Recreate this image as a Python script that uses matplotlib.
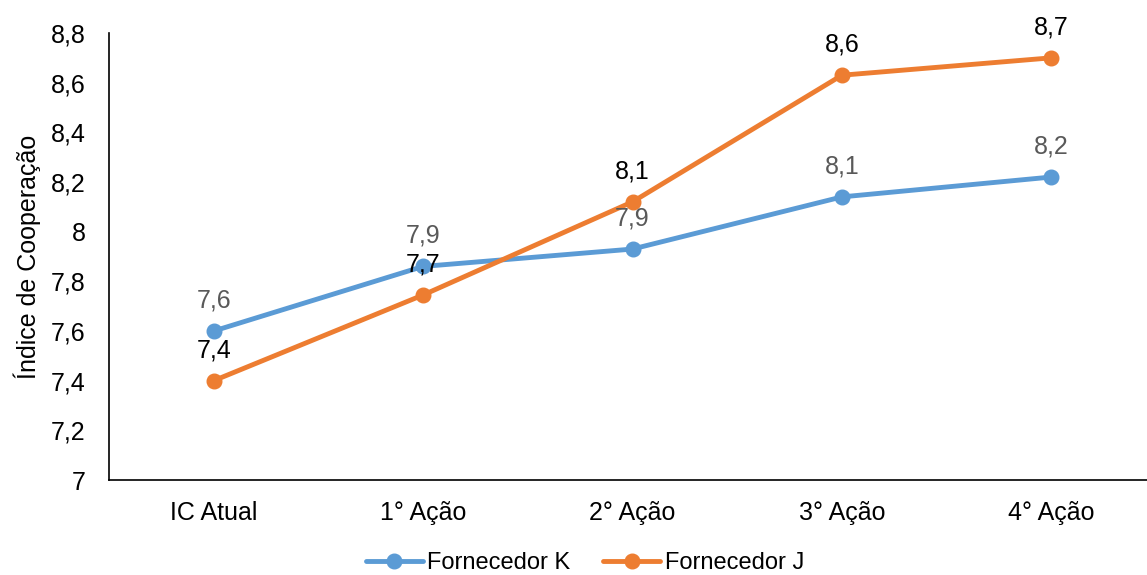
import matplotlib
matplotlib.use("Agg")
import matplotlib.pyplot as plt
from matplotlib.ticker import FixedLocator, FuncFormatter

categories = ["IC Atual", "1° Ação", "2° Ação", "3° Ação", "4° Ação"]
fornecedor_k = [7.60, 7.86, 7.93, 8.14, 8.22]
fornecedor_j = [7.40, 7.745, 8.12, 8.63, 8.70]
yticks = [7, 7.2, 7.4, 7.6, 7.8, 8, 8.2, 8.4, 8.6, 8.8]

plt.rcParams['font.family'] = ['Liberation Sans', 'DejaVu Sans']

fig = plt.figure(figsize=(11.47, 5.75), dpi=100)
ax = fig.add_axes([109/1147, 1 - 480/575, 1047/1147, 447/575])

blue = "#5B9BD5"
orange = "#ED7D31"
x = list(range(len(categories)))
ax.plot(x, fornecedor_k, color=blue, lw=3.5, marker='o', ms=10.5, label="Fornecedor K",
        solid_capstyle='round', zorder=3)
ax.plot(x, fornecedor_j, color=orange, lw=3.5, marker='o', ms=10.5, label="Fornecedor J",
        solid_capstyle='round', zorder=4)

def fmt(v):
    return f"{v:.1f}".replace('.', ',')

FS = 18
for xi, v in zip(x, fornecedor_k):
    ax.annotate(fmt(v), (xi, v), xytext=(0, 17), textcoords='offset points',
                ha='center', va='baseline', fontsize=FS, color='#595959', zorder=5)
for xi, v in zip(x, fornecedor_j):
    ax.annotate(fmt(v), (xi, v), xytext=(0, 17), textcoords='offset points',
                ha='center', va='baseline', fontsize=FS, color='black', zorder=5)

ax.set_xlim(-0.5, len(categories) - 0.5)
ax.set_ylim(7, 8.8)
ax.yaxis.set_major_locator(FixedLocator(yticks))
ax.yaxis.set_major_formatter(FuncFormatter(lambda v, p: f"{v:g}".replace('.', ',')))
ax.set_xticks(x)
ax.set_xticklabels(categories)
ax.tick_params(axis='both', length=0, labelsize=FS, colors='black')
ax.tick_params(axis='y', pad=17)
ax.tick_params(axis='x', pad=15)
for s in ['top', 'right']:
    ax.spines[s].set_visible(False)
for s in ['left', 'bottom']:
    ax.spines[s].set_color('black')
    ax.spines[s].set_linewidth(1.2)
ax.set_ylabel("Índice de Cooperação", fontsize=FS)
ax.yaxis.set_label_coords(-68/1047, 0.5)

leg = fig.legend(loc='center', bbox_to_anchor=(585/1147, 1 - 563/575), ncol=2, frameon=False,
                 fontsize=17, handlelength=2.4, columnspacing=1.4, handletextpad=0.2)

fig.savefig("out.png", dpi=100)
